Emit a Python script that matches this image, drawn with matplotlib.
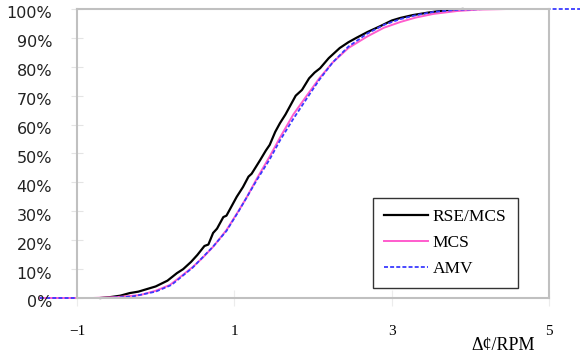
import matplotlib
matplotlib.use("Agg")
import matplotlib.pyplot as plt
from matplotlib.transforms import blended_transform_factory

# cumulative probability curves, x in Δ¢/RPM, y as fraction
rse_x = [-0.70, -0.58, -0.45, -0.33, -0.22, -0.11, 0.00, 0.06, 0.15, 0.27,
         0.35, 0.45, 0.53, 0.62, 0.67, 0.73, 0.78, 0.86, 0.90, 0.95,
         1.03, 1.11, 1.18, 1.22, 1.33, 1.40, 1.45, 1.52, 1.58, 1.65,
         1.72, 1.78, 1.86, 1.95, 2.02, 2.09, 2.20, 2.34, 2.45, 2.55,
         2.69, 2.85, 3.00, 3.11, 3.27, 3.45, 3.61, 3.75, 3.90]
rse_y = [0.000, 0.003, 0.008, 0.017, 0.022, 0.031, 0.040, 0.048, 0.060, 0.086,
         0.100, 0.125, 0.149, 0.180, 0.185, 0.225, 0.240, 0.280, 0.285, 0.310,
         0.350, 0.384, 0.420, 0.430, 0.478, 0.510, 0.530, 0.575, 0.605, 0.635,
         0.670, 0.700, 0.720, 0.760, 0.780, 0.795, 0.830, 0.865, 0.885, 0.900,
         0.920, 0.940, 0.960, 0.969, 0.979, 0.987, 0.993, 0.997, 1.000]

mcs_x = [-1.47, -0.80, -0.50, -0.20, 0.00, 0.18, 0.30, 0.47, 0.60, 0.73,
         0.90, 1.05, 1.15, 1.29, 1.45, 1.58, 1.75, 1.92, 2.08, 2.25,
         2.45, 2.69, 2.90, 3.11, 3.30, 3.53, 3.83, 4.10, 4.47]
mcs_y = [0.000, 0.000, 0.003, 0.010, 0.025, 0.045, 0.070, 0.107, 0.140, 0.177,
         0.235, 0.300, 0.345, 0.415, 0.490, 0.555, 0.635, 0.700, 0.760, 0.815,
         0.865, 0.905, 0.935, 0.955, 0.970, 0.983, 0.993, 0.998, 1.000]

amv_x = [-1.47, -0.60, -0.30, 0.00, 0.20, 0.47, 0.73, 0.90, 1.05, 1.29,
         1.45, 1.58, 1.75, 1.92, 2.08, 2.25, 2.45, 2.69, 2.90, 3.11,
         3.30, 3.53, 3.83, 4.20, 5.40]
amv_y = [0.000, 0.000, 0.005, 0.022, 0.045, 0.105, 0.178, 0.232, 0.298, 0.410,
         0.480, 0.545, 0.620, 0.690, 0.755, 0.815, 0.870, 0.915, 0.945, 0.965,
         0.978, 0.990, 0.997, 1.000, 1.000]

x_ticks = [-1, 1, 3, 5]
x_labels = ["\u22121", "1", "3", "5"]
y_ticks = [i / 10 for i in range(11)]
y_labels = ["%d%%" % (i * 10) for i in range(11)]

W, H = 580, 360
fig = plt.figure(figsize=(W / 100, H / 100), dpi=100)
ax = fig.add_axes([77 / W, (H - 298) / H, 472 / W, 289 / H])
ax.set_xlim(-1, 5)
ax.set_ylim(0, 1)

for side in ax.spines.values():
    side.set_color("#c0c0c0")
    side.set_linewidth(1.5)

ax.plot(rse_x, rse_y, color="black", lw=1.6, clip_on=False, label="RSE/MCS")
ax.plot(mcs_x, mcs_y, color="#ff5ccd", lw=1.4, clip_on=False, label="MCS")
ax.plot(amv_x, amv_y, color="#3a3aff", lw=1.3, dashes=(2.2, 1.2),
        clip_on=False, label="AMV")

# y labels sit a few pixels below their tick stubs
ax.set_yticks(y_ticks)
ax.tick_params(axis="y", direction="inout", length=9, color="#e4e4e4",
               labelleft=False)
for v, s in zip(y_ticks, y_labels):
    ax.text(-25 / 472, v - 0.017, s, transform=ax.get_yaxis_transform(),
            ha="right", va="center", fontsize=11.5, color="#222222",
            family="DejaVu Sans")

ax.set_xticks(x_ticks)
ax.set_xticklabels(x_labels, family="Liberation Serif", fontsize=11)
ax.tick_params(axis="x", direction="inout", length=11, color="#ececec",
               pad=14)

ax.text(503 / W, -0.165, "\u0394\u00a2/RPM",
        transform=blended_transform_factory(fig.transFigure, ax.transAxes),
        fontsize=13, family="Liberation Serif", ha="center", va="center")

leg = ax.legend(loc="upper left", bbox_to_anchor=(373 / W, (H - 198) / H),
                bbox_transform=fig.transFigure, frameon=True, fancybox=False,
                prop={"family": "Liberation Serif", "size": 12.5},
                handlelength=2.5, handletextpad=0.3, labelspacing=0.55,
                borderpad=0.65, borderaxespad=0)
leg.get_frame().set_edgecolor("black")
leg.get_frame().set_linewidth(1.0)

fig.savefig("out.png", dpi=100)
